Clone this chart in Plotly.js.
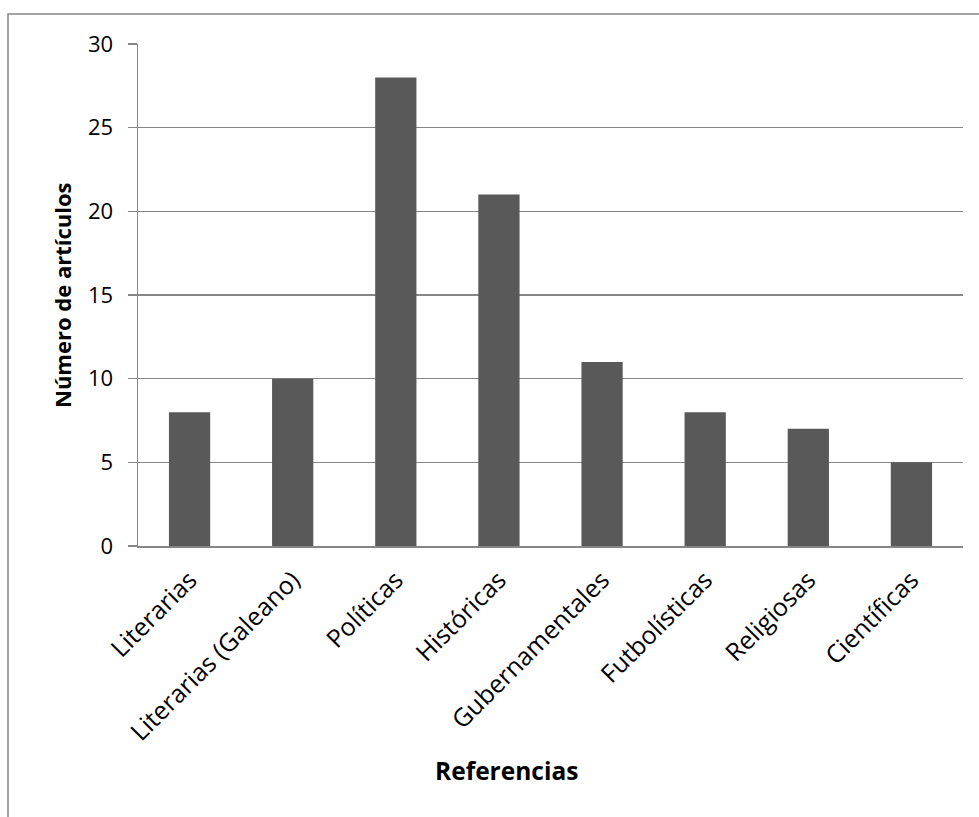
<!DOCTYPE html>
<html>
<head>
<meta charset="utf-8">
<script src="https://cdn.plot.ly/plotly-3.0.1.min.js"></script>
<style>html,body{margin:0;padding:0;background:#fff;}#chart{width:979px;height:817px;}</style>
</head>
<body>
<div id="chart"></div>
<script>
const categories = ["Literarias", "Literarias (Galeano)", "Políticas", "Históricas", "Gubernamentales", "Futbolísticas", "Religiosas", "Científicas"];
const values = [8, 10, 28, 21, 11, 8, 7, 5];
const yTicks = [0, 5, 10, 15, 20, 25, 30];
const xTitle = "Referencias";
const yTitle = "Número de artículos";

const W = 979, H = 817;
const M = {l: 138, r: 16, t: 44, b: 271};
const pw = W - M.l - M.r, ph = H - M.t - M.b;
const px = v => (v - M.l) / pw;
const py = v => (H - M.b - v) / ph;
const gray = "#868686";
const fontFam = "Open Sans, sans-serif";

const trace = {
  type: "bar",
  x: categories,
  y: values,
  marker: {color: "#595959"},
  hoverinfo: "x+y"
};

const layout = {
  width: W, height: H,
  margin: M,
  paper_bgcolor: "#fff",
  plot_bgcolor: "#fff",
  showlegend: false,
  bargap: 0.6,
  font: {family: fontFam, color: "#000", size: 21},
  xaxis: {
    type: "category",
    tickangle: -45,
    showline: true, linecolor: gray, linewidth: 1.5,
    showgrid: false, ticks: "outside", ticklen: 8, tickcolor: "rgba(0,0,0,0)",
    tickfont: {size: 25},
    fixedrange: true
  },
  yaxis: {
    range: [0, 30],
    tickvals: yTicks,
    ticks: "outside", ticklen: 9, tickcolor: gray, tickwidth: 1.5,
    showline: true, linecolor: gray, linewidth: 1.5,
    showgrid: true, gridcolor: gray, gridwidth: 1.5,
    zeroline: false,
    tickfont: {size: 22},
    ticklabelstandoff: 10,
    fixedrange: true
  },
  annotations: [
    {text: "<b>" + xTitle + "</b>", xref: "paper", yref: "paper", x: px(506), y: py(770),
     showarrow: false, font: {size: 24.5}, xanchor: "center", yanchor: "middle"},
    {text: "<b>" + yTitle + "</b>", xref: "paper", yref: "paper", x: px(62), y: py(295),
     showarrow: false, font: {size: 22}, textangle: -90, xanchor: "center", yanchor: "middle"}
  ],
  shapes: [
    {type: "rect", xref: "paper", yref: "paper", x0: px(8), x1: px(1000), y0: py(14), y1: py(840),
     line: {color: gray, width: 1.5}, fillcolor: "rgba(0,0,0,0)", layer: "below"}
  ]
};

Plotly.newPlot("chart", [trace], layout, {displayModeBar: false, staticPlot: true});
</script>
</body>
</html>
